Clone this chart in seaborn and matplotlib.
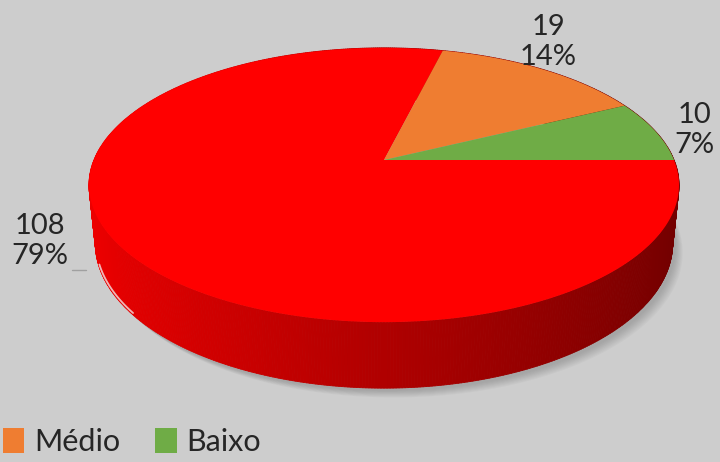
import numpy as np
import matplotlib
matplotlib.use('Agg')
import matplotlib.pyplot as plt
import seaborn as sns
from matplotlib.patches import Patch
from matplotlib.collections import PolyCollection

# ---------------- data ----------------
categories = ['Alto', 'Médio', 'Baixo']
values = [108, 19, 10]
percent_labels = ['79%', '14%', '7%']
colors = ['#ff0000', '#ef7d31', '#6fac46']
legend_categories = ['Médio', 'Baixo']

# ---------------- style ----------------
sns.set_theme(style='white')
plt.rcParams['font.family'] = ['Lato', 'DejaVu Sans']
BG = '#cdcdcd'
TEXT = '#262626'

W, HH = 720, 462
fig = plt.figure(figsize=(7.2, 4.62), dpi=100)
fig.patch.set_facecolor(BG)
ax = fig.add_axes([0, 0, 1, 1])
ax.set_facecolor(BG)
ax.set_xlim(0, W)
ax.set_ylim(HH, 0)
ax.axis('off')

# perspective projection of a disk (3D pie)
CX, CY = 384, 160
F, D, ELEV, DEPTH = 1415.0, 4.878, np.deg2rad(27.2), 0.228
ce, se = np.cos(ELEV), np.sin(ELEV)


def proj(X, Y, Z):
    dep = D + Y * ce - Z * se
    return CX + F * X / dep, CY - F * (Z * ce + Y * se) / dep


vals = np.array(values, dtype=float)
frac = vals / vals.sum()
cum = np.concatenate([[0], np.cumsum(frac)]) * 2 * np.pi
# clockwise from angle 0 (right), first category wraps round the front
starts = 2 * np.pi - cum[1:]
ends = 2 * np.pi - cum[:-1]

# soft shadow
tt = np.linspace(0, 2 * np.pi, 400)
bx, by = proj(np.cos(tt), np.sin(tt), -DEPTH)
for k in range(8):
    ax.fill(bx + 3 + k * 1.0, by + 3 + k * 0.9, color='#4a4a4a', alpha=0.04, lw=0, zorder=1)

# side wall
n = 720
t = np.linspace(0, 2 * np.pi, n + 1)
polys, cols, depths = [], [], []
for i in range(n):
    a0, a1 = t[i], t[i + 1]
    x0t, y0t = proj(np.cos(a0), np.sin(a0), 0)
    x1t, y1t = proj(np.cos(a1), np.sin(a1), 0)
    x0b, y0b = proj(np.cos(a0), np.sin(a0), -DEPTH)
    x1b, y1b = proj(np.cos(a1), np.sin(a1), -DEPTH)
    polys.append([(x0t, y0t), (x1t, y1t), (x1b, y1b), (x0b, y0b)])
    am = 0.5 * (a0 + a1)
    X = np.cos(am)
    shade = 0.69 - 0.25 * X
    cols.append((min(shade, 1.0), 0.0, 0.0))
    depths.append(np.sin(am))
order = np.argsort(depths)[::-1]
pc = PolyCollection([polys[i] for i in order], facecolors=[cols[i] for i in order],
                    edgecolors=[cols[i] for i in order], linewidths=0.6, zorder=2)
ax.add_collection(pc)

# light rim highlight at bottom-left
hl = np.linspace(np.deg2rad(199), np.deg2rad(218), 40)
hx, hy = proj(np.cos(hl), np.sin(hl), -DEPTH)
ax.plot(hx + 0.5, hy - 1.5, color='#f2e4e4', lw=1.3, alpha=0.8, zorder=3,
        solid_capstyle='round')

# top surface wedges
for s, e, c in zip(starts, ends, colors):
    aa = np.linspace(s, e, 200)
    xs, ys = proj(np.cos(aa), np.sin(aa), 0)
    px, py = proj(0.0, 0.0, 0.0)
    ax.fill(np.r_[px, xs], np.r_[py, ys], color=c, lw=0, zorder=4)

# data labels
label_pos = [(40, 241), (548, 42), (694, 130)]
for (lx, ly), v, p in zip(label_pos, values, percent_labels):
    ax.text(lx, ly, f"{v}\n{p}", ha='center', va='center', fontsize=21,
            color=TEXT, linespacing=1.18, zorder=6)
ax.plot([72, 86], [270, 270], color='#a0a0a0', lw=1, zorder=5)

# legend
handles = [Patch(facecolor=colors[categories.index(c)], edgecolor='none') for c in legend_categories]
fig.legend(handles, legend_categories, loc='upper left', bbox_to_anchor=(3 / W, 1 - 428 / HH),
           ncol=2, frameon=False, fontsize=22, handlelength=0.7, handleheight=0.85,
           handletextpad=0.32, columnspacing=1.15, borderpad=0.0, borderaxespad=0.0,
           labelcolor=TEXT)

fig.savefig('out.png', dpi=100, facecolor=BG)
